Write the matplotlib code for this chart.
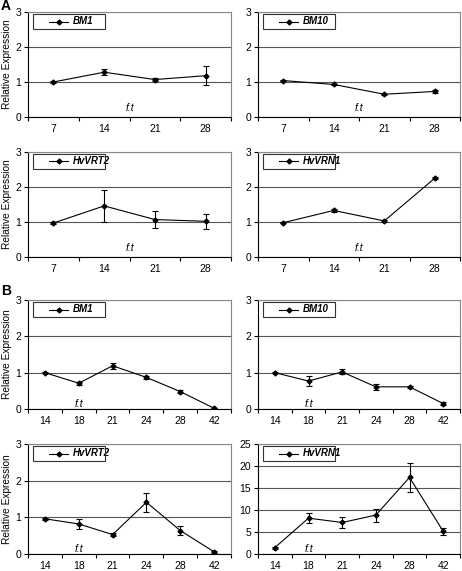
import numpy as np
import matplotlib
matplotlib.use('Agg')
import matplotlib.pyplot as plt
from matplotlib.patches import Rectangle

plt.rcParams['font.family'] = ['Liberation Sans', 'DejaVu Sans']

## panel A (days)
a_days = ['7', '14', '21', '28']
a_bm1 = [1.00, 1.28, 1.07, 1.18]
a_bm1_err = [0.02, 0.08, 0.04, 0.27]
a_bm10 = [1.04, 0.93, 0.65, 0.73]
a_bm10_err = [0.02, 0.02, 0.02, 0.03]
a_vrt2 = [0.97, 1.46, 1.07, 1.02]
a_vrt2_err = [0.02, 0.45, 0.23, 0.21]
a_vrn1 = [0.98, 1.33, 1.03, 2.25]
a_vrn1_err = [0.02, 0.05, 0.02, 0.03]

## panel B (days)
b_days = ['14', '18', '21', '24', '28', '42']
b_bm1 = [1.00, 0.71, 1.19, 0.87, 0.48, 0.02]
b_bm1_err = [0.02, 0.04, 0.08, 0.05, 0.04, 0.01]
b_bm10 = [1.00, 0.77, 1.02, 0.61, 0.61, 0.15]
b_bm10_err = [0.02, 0.13, 0.07, 0.08, 0.02, 0.03]
b_vrt2 = [0.96, 0.82, 0.53, 1.41, 0.64, 0.06]
b_vrt2_err = [0.02, 0.13, 0.04, 0.26, 0.12, 0.02]
b_vrn1 = [1.45, 8.15, 7.16, 8.84, 17.4, 5.18]
b_vrn1_err = [0.2, 1.2, 1.15, 1.5, 3.2, 0.75]

FIG_W, FIG_H = 462, 571


def draw_panel(ax, days, vals, errs, gene, ymax, ystep, ft_pos, ylabel=False):
    """
    Excel style line chart with error bars on a category axis.
    """
    x = np.arange(len(days))
    ax.errorbar(x, vals, yerr=errs, color='black', lw=0.8, marker='D', ms=2.5,
                capsize=2.5, elinewidth=0.8, capthick=0.8, zorder=3)
    ax.set_xlim(-0.5, len(days) - 0.5)
    ax.set_ylim(0, ymax)
    ax.set_yticks(np.arange(0, ymax + ystep / 2, ystep))
    ax.set_xticks(x)
    ax.set_xticklabels(days)
    ax.set_xticks(np.arange(len(days) + 1) - 0.5, minor=True)
    ax.tick_params(axis='x', which='major', length=0, pad=5, labelsize=7.5)
    ax.tick_params(axis='x', which='minor', length=3, width=0.8)
    ax.tick_params(axis='y', length=3, width=0.8, pad=2, labelsize=7.5)
    ax.yaxis.grid(True, color='#555555', lw=0.8)
    ax.set_axisbelow(True)
    for s in ['left', 'bottom']:
        ax.spines[s].set_color('black')
        ax.spines[s].set_linewidth(0.8)
    for s in ['top', 'right']:
        ax.spines[s].set_color('#888888')
        ax.spines[s].set_linewidth(0.8)

    ## legend box drawn by hand (pixel offsets from axes corner)
    pos = ax.get_position()
    w = pos.width * FIG_W
    h = pos.height * FIG_H
    ax.add_patch(Rectangle((5 / w, 1 - 17 / h), 72 / w, 15 / h, transform=ax.transAxes,
                           fill=False, ec='#333333', lw=0.8, clip_on=False, zorder=4))
    ly = 1 - 9.5 / h
    ax.plot([21 / w, 40 / w], [ly, ly], color='black', lw=0.8, transform=ax.transAxes,
            clip_on=False, zorder=5)
    ax.plot([30.5 / w], [ly], color='black', marker='D', ms=2.5, transform=ax.transAxes,
            clip_on=False, zorder=5)
    ax.text(45 / w, ly, gene, transform=ax.transAxes, fontsize=7, fontweight='bold',
            fontstyle='italic', va='center', ha='left')

    ax.text(ft_pos[0], ft_pos[1], 'f.t', transform=ax.transAxes, fontsize=7.5,
            fontstyle='italic', ha='center', va='center')

    if ylabel:
        ax.set_ylabel('Relative Expression', fontsize=7.3)
        ax.yaxis.set_label_coords(-16 / w, 0.5)


fig = plt.figure(figsize=(FIG_W / 100, FIG_H / 100), dpi=100)

left_x, left_w = 28 / FIG_W, 203 / FIG_W
right_x, right_w = 258 / FIG_W, 202 / FIG_W
## rows: (top px, bottom px)
rows = [(12, 117), (152, 257), (300, 409), (444, 554)]

def row_axes(r, x0, w):
    top, bot = rows[r]
    return fig.add_axes([x0, 1 - bot / FIG_H, w, (bot - top) / FIG_H])

ft_a = (0.5, 0.086)
ft_b = (0.25, 0.05)

draw_panel(row_axes(0, left_x, left_w), a_days, a_bm1, a_bm1_err, 'BM1', 3, 1, ft_a, True)
draw_panel(row_axes(0, right_x, right_w), a_days, a_bm10, a_bm10_err, 'BM10', 3, 1, ft_a)
draw_panel(row_axes(1, left_x, left_w), a_days, a_vrt2, a_vrt2_err, 'HvVRT2', 3, 1, ft_a, True)
draw_panel(row_axes(1, right_x, right_w), a_days, a_vrn1, a_vrn1_err, 'HvVRN1', 3, 1, ft_a)
draw_panel(row_axes(2, left_x, left_w), b_days, b_bm1, b_bm1_err, 'BM1', 3, 1, ft_b, True)
draw_panel(row_axes(2, right_x, right_w), b_days, b_bm10, b_bm10_err, 'BM10', 3, 1, ft_b)
draw_panel(row_axes(3, left_x, left_w), b_days, b_vrt2, b_vrt2_err, 'HvVRT2', 3, 1, ft_b, True)
draw_panel(row_axes(3, right_x, right_w), b_days, b_vrn1, b_vrn1_err, 'HvVRN1', 25, 5, ft_b)

fig.text(1 / FIG_W, 1 - 6 / FIG_H, 'A', fontsize=10, fontweight='bold', ha='left', va='center')
fig.text(1 / FIG_W, 1 - 291 / FIG_H, 'B', fontsize=10, fontweight='bold', ha='left', va='center')

fig.savefig('out.png', dpi=100, facecolor='white')
